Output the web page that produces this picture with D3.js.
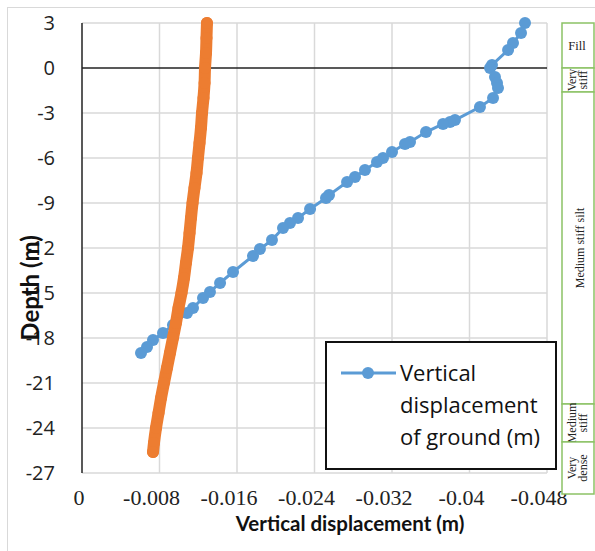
<!DOCTYPE html>
<html>
<head>
<meta charset="utf-8">
<script src="https://cdn.jsdelivr.net/npm/d3@7"></script>
<style>
  body { margin: 0; background: #fff; }
  svg { display: block; }
</style>
</head>
<body>
<svg id="chart" width="595" height="551"></svg>
<script>
// blue series: vertical displacement of ground (m) vs depth (m)
let groundDepth = [3.0, 2.33, 1.67, 1.2, 0.2, 0.0, -0.6, -1.0, -1.33, -2.0, -2.6, -3.47, -3.6, -3.73,
  -4.27, -4.93, -5.07, -5.6, -6.0, -6.27, -6.8, -7.27, -7.6, -8.47, -8.67, -9.4, -10.0, -10.33,
  -10.67, -11.47, -12.07, -12.53, -13.6, -14.33, -14.93, -15.33, -16.0, -16.33, -17.13, -17.67,
  -18.13, -18.6, -19.0];
let groundDisp = [-0.04573, -0.04532, -0.04449, -0.04398, -0.04232, -0.04212, -0.04263, -0.04284,
  -0.04294, -0.04243, -0.04108, -0.03850, -0.03799, -0.03727, -0.03551, -0.03386, -0.03334,
  -0.03200, -0.03107, -0.03045, -0.02921, -0.02818, -0.02736, -0.02550, -0.02519, -0.02354,
  -0.02230, -0.02147, -0.02075, -0.01961, -0.01837, -0.01765, -0.01559, -0.01425, -0.01321,
  -0.01249, -0.01146, -0.01084, -0.00939, -0.00836, -0.00733, -0.00671, -0.00609];

// orange series (no legend entry)
let pileDepth = [3, 2, 1, 0, -1, -2, -3, -4, -5, -6, -7, -8, -9, -10, -11, -12, -13, -14, -15,
  -16, -17, -18, -19, -20, -21, -22, -23, -24, -25, -25.6];
let pileDisp = [-0.01290, -0.01285, -0.01280, -0.01270, -0.01265, -0.01254, -0.01239, -0.01228,
  -0.01213, -0.01197, -0.01182, -0.01161, -0.01141, -0.01125, -0.01110, -0.01094, -0.01073,
  -0.01053, -0.01027, -0.00996, -0.00970, -0.00939, -0.00908, -0.00877, -0.00846, -0.00816,
  -0.00790, -0.00764, -0.00743, -0.00733];

let xTicks = [0, -0.008, -0.016, -0.024, -0.032, -0.04, -0.048];
let yTicks = [3, 0, -3, -6, -9, -12, -15, -18, -21, -24, -27];
let legendLines = ['Vertical', 'displacement', 'of ground (m)'];

// soil layers: [top depth, bottom depth, label lines]
let layerNames = [['Fill'], ['Very', 'stiff'], ['Medium stiff silt'], ['Medium', 'stiff'], ['Very', 'dense']];
let layerTops = [3, 0, -1.6, -22.4, -24.93];
let layerBottoms = [0, -1.6, -22.4, -24.93, -28.4];

const svg = d3.select('#chart');
const x = d3.scaleLinear().domain([0, -0.048]).range([82, 547]);
const y = d3.scaleLinear().domain([3, -27]).range([23, 473]);
const blue = '#5b9bd5', orange = '#ed7d31', green = '#8cc265';
const sans = "'Open Sans', sans-serif", serif = "'Liberation Serif', serif";

// outer chart border
svg.append('rect').attr('x', 7.5).attr('y', 7.5).attr('width', 620).attr('height', 620)
  .attr('fill', 'none').attr('stroke', '#d9d9d9').attr('stroke-width', 1);

// gridlines
const grid = svg.append('g').attr('stroke', '#d9d9d9').attr('stroke-width', 1.5);
grid.selectAll('line.h').data(yTicks.filter(t => t !== 0)).enter().append('line')
  .attr('x1', x(0)).attr('x2', x(-0.048)).attr('y1', d => y(d)).attr('y2', d => y(d));
grid.selectAll('line.v').data(xTicks.filter(t => t !== 0)).enter().append('line')
  .attr('x1', d => x(d)).attr('x2', d => x(d)).attr('y1', y(3)).attr('y2', y(-27));

// axis lines (y axis at x=0, x axis at depth 0)
svg.append('line').attr('x1', x(0)).attr('x2', x(0)).attr('y1', y(3)).attr('y2', y(-27))
  .attr('stroke', '#222').attr('stroke-width', 1.5);
svg.append('line').attr('x1', x(0)).attr('x2', x(-0.048)).attr('y1', y(0)).attr('y2', y(0))
  .attr('stroke', '#222').attr('stroke-width', 1.5);

// tick labels
svg.selectAll('text.ytick').data(yTicks).enter().append('text')
  .attr('x', 55).attr('y', d => y(d)).attr('dy', '0.35em')
  .attr('text-anchor', 'end').attr('font-family', sans).attr('font-size', 20)
  .attr('fill', '#222').text(d => d);
svg.selectAll('text.xtick').data(xTicks).enter().append('text')
  .attr('x', d => x(d) - (d === 0 ? 3 : 8)).attr('y', 505)
  .attr('text-anchor', 'middle').attr('font-family', serif).attr('font-size', 22)
  .attr('fill', '#222').text(d => d);

// axis titles
svg.append('text').attr('x', 350).attr('y', 531).attr('text-anchor', 'middle')
  .attr('font-family', "Lato, sans-serif").attr('font-weight', 'bold').attr('font-size', 20.5)
  .attr('fill', '#111').text('Vertical displacement (m)');
svg.append('text').attr('transform', 'translate(39,288) rotate(-90)').attr('text-anchor', 'middle')
  .attr('font-family', "Lato, sans-serif").attr('font-weight', 'bold').attr('font-size', 24)
  .attr('fill', '#111').text('Depth (m)');

// blue series
let groundData = groundDepth.map((d, i) => ({depth: d, disp: groundDisp[i]}));
let pileData = pileDepth.map((d, i) => ({depth: d, disp: pileDisp[i]}));
const line = d3.line().x(d => x(d.disp)).y(d => y(d.depth));

svg.append('path').datum(groundData).attr('d', line)
  .attr('fill', 'none').attr('stroke', blue).attr('stroke-width', 3);
svg.append('g').selectAll('circle').data(groundData).enter().append('circle')
  .attr('cx', d => x(d.disp)).attr('cy', d => y(d.depth)).attr('r', 6).attr('fill', blue);

// orange series: markers so dense they read as a thick band
svg.append('path').datum(pileData).attr('d', d3.line().curve(d3.curveMonotoneY).x(d => x(d.disp)).y(d => y(d.depth)))
  .attr('fill', 'none').attr('stroke', orange).attr('stroke-width', 12).attr('stroke-linecap', 'round');
svg.append('g').selectAll('circle').data(pileData).enter().append('circle')
  .attr('cx', d => x(d.disp)).attr('cy', d => y(d.depth)).attr('r', 6).attr('fill', orange);

// legend
const lg = svg.append('g');
lg.append('rect').attr('x', 326).attr('y', 342).attr('width', 230).attr('height', 127)
  .attr('fill', '#fff').attr('stroke', '#111').attr('stroke-width', 2);
lg.append('line').attr('x1', 341).attr('x2', 396).attr('y1', 373).attr('y2', 373)
  .attr('stroke', blue).attr('stroke-width', 3);
lg.append('circle').attr('cx', 368).attr('cy', 373).attr('r', 6).attr('fill', blue);
lg.selectAll('text').data(legendLines).enter().append('text')
  .attr('x', 400).attr('y', (d, i) => 381 + i * 32)
  .attr('font-family', sans).attr('font-size', 22).attr('fill', '#111').text(d => d);

// soil column on the right
const col = svg.append('g');
layerNames.forEach(function(names, i) {
  let y0 = y(layerTops[i]), y1 = y(layerBottoms[i]);
  col.append('rect').attr('x', 562).attr('y', y0).attr('width', 32).attr('height', y1 - y0)
    .attr('fill', '#fff').attr('stroke', green).attr('stroke-width', 1.5);
  let cy = (y0 + y1) / 2;
  if (names[0] === 'Fill') {
    col.append('text').attr('x', 577).attr('y', cy).attr('dy', '0.35em').attr('text-anchor', 'middle')
      .attr('font-family', serif).attr('font-size', 12.5).attr('fill', '#222').text('Fill');
  } else {
    names.forEach(function(n, j) {
      let cx = names.length === 1 ? 580 : 572 + j * 11;
      col.append('text').attr('transform', 'translate(' + cx + ',' + cy + ') rotate(-90)')
        .attr('dy', '0.35em').attr('text-anchor', 'middle')
        .attr('font-family', serif).attr('font-size', 12).attr('fill', '#222').text(n);
    });
  }
});
</script>
</body>
</html>
